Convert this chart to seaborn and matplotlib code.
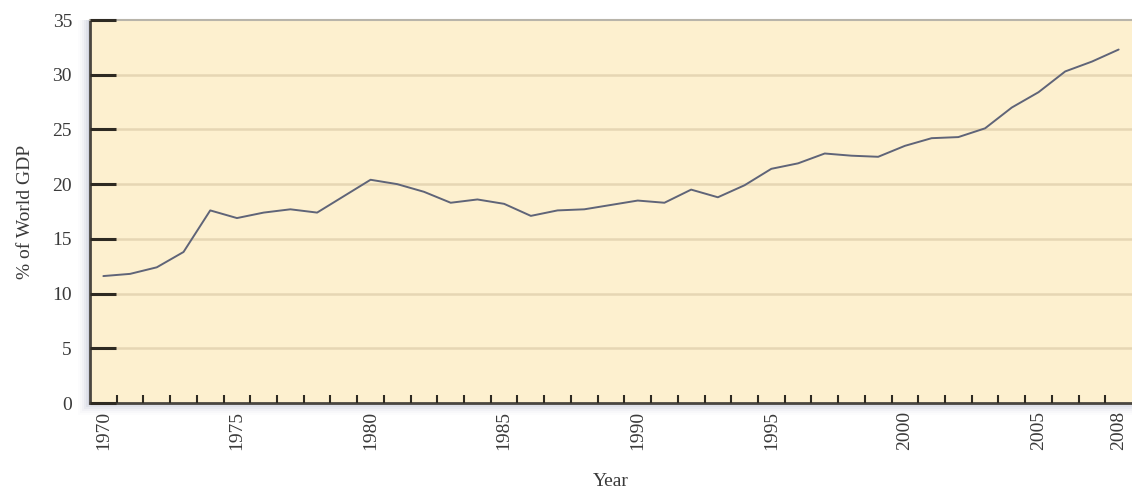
import matplotlib
matplotlib.use("Agg")
import matplotlib.pyplot as plt
import seaborn as sns
import pandas as pd
import numpy as np
from matplotlib.ticker import FixedLocator

years = list(range(1970, 2009))
share = [11.6, 11.8, 12.4, 13.8, 17.6, 16.9, 17.4, 17.7, 17.4, 18.9,
         20.4, 20.0, 19.3, 18.3, 18.6, 18.2, 17.1, 17.6, 17.7, 18.1,
         18.5, 18.3, 19.5, 18.8, 19.9, 21.4, 21.9, 22.8, 22.6, 22.5,
         23.5, 24.2, 24.3, 25.1, 27.0, 28.4, 30.3, 31.2, 32.3]
x_labels = [1970, 1975, 1980, 1985, 1990, 1995, 2000, 2005, 2008]
y_ticks = [0, 5, 10, 15, 20, 25, 30, 35]

df = pd.DataFrame({"Year": years, "Share": share})

sns.set_theme(style="white")
plt.rcParams["font.family"] = ["Liberation Serif", "DejaVu Serif"]

fig = plt.figure(figsize=(11.32, 4.91), dpi=100)
W, H = 1132, 491
left, right, top, bottom = 90, 1132, 20, 403
ax = fig.add_axes([left / W, 1 - bottom / H, (right - left) / W, (bottom - top) / H])

# soft drop shadow
for i, a in enumerate([0.12, 0.08, 0.06, 0.04, 0.025, 0.015]):
    off = 2 + i * 2
    fig.patches.append(plt.Rectangle(((left - off) / W, 1 - (bottom + off) / H),
                                     (right - left + 2 * off) / W, (bottom - top + off) / H,
                                     transform=fig.transFigure, facecolor="#6a6f9a",
                                     alpha=a, edgecolor="none", zorder=-1))

ax.set_facecolor("#FDF0CF")
ax.set_axisbelow(False)
sns.lineplot(data=df, x="Year", y="Share", ax=ax, color="#5f6478", linewidth=1.4, zorder=3)

ax.set_xlim(1969.5, 2008.5)
ax.set_ylim(0, 35)
ax.set_yticks(y_ticks)
ax.set_yticklabels([str(v) for v in y_ticks], fontsize=14, color="#3a3a3a")
ax.set_xticks(x_labels)
ax.set_xticklabels([str(v) for v in x_labels], rotation=90, fontsize=14, color="#3a3a3a")
ax.xaxis.set_minor_locator(FixedLocator([y + 0.5 for y in years[:-1]]))

for v in y_ticks[1:-1]:
    ax.axhline(v, color="#E6D6B4", linewidth=1.8, zorder=1)

ax.tick_params(axis="y", which="major", direction="in", length=19, width=2.2,
               color="#2e2a22", pad=13, left=True)
ax.tick_params(axis="x", which="major", length=0, pad=6, bottom=True)
ax.tick_params(axis="x", which="minor", direction="in", length=6, width=1.5,
               color="#2e2a22", bottom=True)

for s in ["left", "bottom"]:
    ax.spines[s].set_color("#4a4640")
    ax.spines[s].set_linewidth(2.0)
ax.spines["top"].set_color("#b8b4aa")
ax.spines["top"].set_linewidth(1.5)
ax.spines["right"].set_visible(False)

ax.set_xlabel("Year", fontsize=14, color="#3a3a3a", labelpad=16)
ax.set_ylabel("% of World GDP", fontsize=14, color="#3a3a3a", labelpad=13)

fig.savefig("out.png", dpi=100)
